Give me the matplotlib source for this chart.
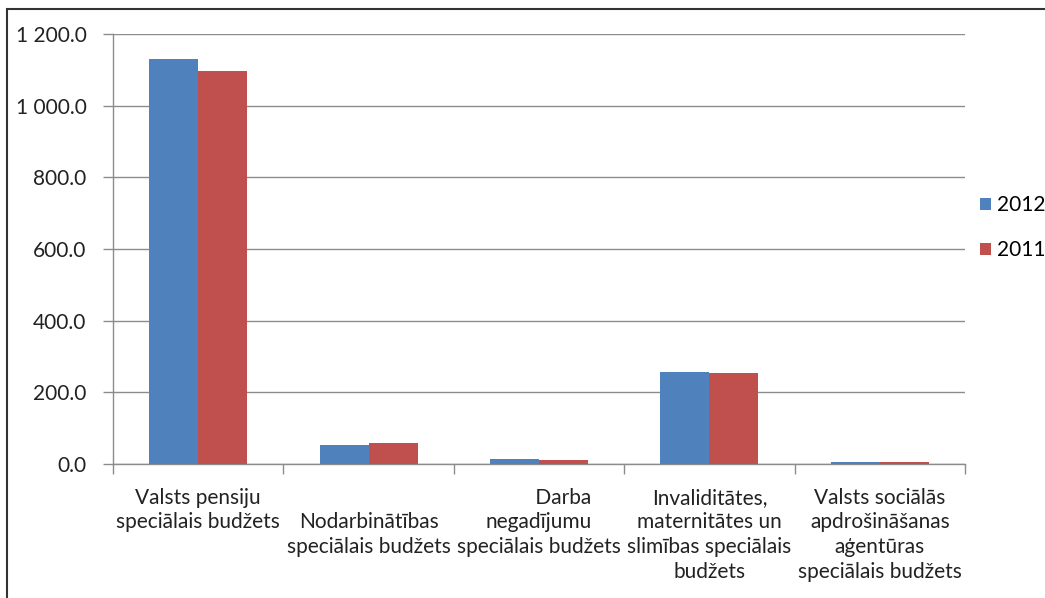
import numpy as np
import matplotlib.pyplot as plt
from matplotlib.patches import Rectangle
from matplotlib.ticker import FuncFormatter, FixedLocator, NullFormatter

plt.rcParams['font.family'] = ['Lato', 'DejaVu Sans']

# Kategorijas un vērtības
kategorijas = [
    "Valsts pensiju\nspeciālais budžets",
    "\nNodarbinātības\nspeciālais budžets",
    "         Darba\nnegadījumu\nspeciālais budžets",
    "Invaliditātes,\nmaternitātes un\nslimības speciālais\nbudžets",
    "Valsts sociālās\napdrošināšanas\naģentūras\nspeciālais budžets",
]
vertibas_2012 = [1130, 52, 15, 256, 6]
vertibas_2011 = [1096, 58, 11, 253, 6]
gadi = ["2012", "2011"]
krasas = ["#4F81BD", "#C0504D"]

fig = plt.figure(figsize=(10.45, 5.98), dpi=100)
ax = fig.add_axes([113 / 1045, 1 - 464 / 598, 852 / 1045, 430 / 598])

# rāmis ap attēlu
fig.patches.append(Rectangle((7 / 1045, -0.1), 1.2, 1.1 - 9 / 598,
                             transform=fig.transFigure, fill=False,
                             edgecolor='#333333', linewidth=1.5))

x = np.arange(len(kategorijas))
w = 0.287
ax.bar(x - w / 2, vertibas_2012, w, color=krasas[0], label=gadi[0], zorder=3)
ax.bar(x + w / 2, vertibas_2011, w, color=krasas[1], label=gadi[1], zorder=3)

ax.set_xlim(-0.5, len(kategorijas) - 0.5)
ax.set_ylim(0, 1200)
ax.set_yticks(np.arange(0, 1201, 200))
ax.yaxis.set_major_formatter(FuncFormatter(lambda v, p: f"{v:,.1f}".replace(",", " ")))
ax.grid(axis='y', color='#8c8c8c', linewidth=1, zorder=0)

# x ass: ķeksīši starp kategorijām, nosaukumi centrā
ax.xaxis.set_major_locator(FixedLocator(np.arange(-0.5, len(kategorijas), 1.0)))
ax.xaxis.set_major_formatter(NullFormatter())
ax.xaxis.set_minor_locator(FixedLocator(x))
ax.set_xticklabels(kategorijas, minor=True, fontsize=15, color='#222222',
                   linespacing=1.3)
ax.tick_params(axis='x', which='minor', length=0, pad=17)
ax.tick_params(axis='x', which='major', length=7, color='#8c8c8c', width=1)
ax.tick_params(axis='y', length=7, color='#8c8c8c', width=1, labelsize=15,
               labelcolor='#222222', pad=12)

for s in ['top', 'right']:
    ax.spines[s].set_visible(False)
for s in ['left', 'bottom']:
    ax.spines[s].set_color('#8c8c8c')
    ax.spines[s].set_linewidth(1)

ax.legend(loc='center left', bbox_to_anchor=((972 - 113) / 852, 0.55),
          frameon=False, fontsize=15, handlelength=0.5, handleheight=0.5,
          handletextpad=0.3, labelspacing=1.2, borderaxespad=0)

fig.savefig("out.png", dpi=100)
